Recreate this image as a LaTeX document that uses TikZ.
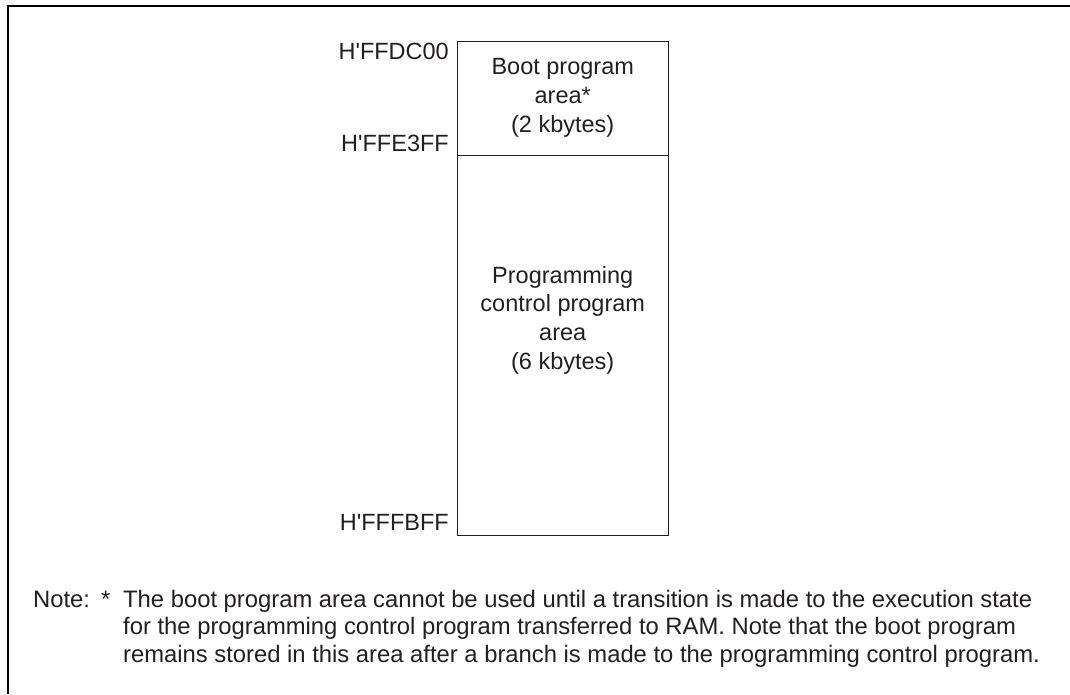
\documentclass[tikz,border=0pt]{standalone}
\usepackage{fontspec}
\setmainfont{Liberation Sans}
\usetikzlibrary{positioning}
\definecolor{txtgray}{HTML}{231F20}

\begin{document}
\begin{tikzpicture}[
    x=1pt, y=-1pt,
    node distance=0pt,
    every node/.style={font=\fontsize{23.5}{28.7}\selectfont, text=txtgray},
    area/.style={draw=txtgray, line width=0.9pt, minimum width=210.5pt, inner sep=0pt, outer sep=0pt},
    addr/.style={anchor=base east, inner sep=0pt},
    notes/.style={anchor=base west, inner sep=0pt, align=left, font=\fontsize{23.8}{27.5}\selectfont},
    frame/.style={line width=2pt}
  ]
  \useasboundingbox (0,0) rectangle (1070,694);
  \draw[frame] (8,694) -- (8,5.7) -- (1070,5.7);

  \node[area, minimum height=114pt, anchor=north west] (boot) at (457.5,41) {};
  \node[area, minimum height=380.5pt, below=of boot] (ctrl) {};
  \node[align=center, inner sep=0pt] (boottxt) at (boot) {Boot program\\area*\\(2 kbytes)};
  \node[align=center, inner sep=0pt] (ctrltxt) at ([yshift=25pt]ctrl.center) {Programming\\control program\\area\\(6 kbytes)};

  \node[addr] (top) at (449,59) {H\textquotesingle FFDC00};
  \node[addr] (mid) at (449,151) {H\textquotesingle FFE3FF};
  \node[addr] (bot) at (449,530) {H\textquotesingle FFFBFF};

  \node[notes] (note) at (33,607) {Note:};
  \node[notes] (star) at (101,607) {*};
  \node[notes] (notetxt) at (123,662) {The boot program area cannot be used until a transition is made to the execution state\\
    for the programming control program transferred to RAM. Note that the boot program\\
    remains stored in this area after a branch is made to the programming control program.};
\end{tikzpicture}
\end{document}
